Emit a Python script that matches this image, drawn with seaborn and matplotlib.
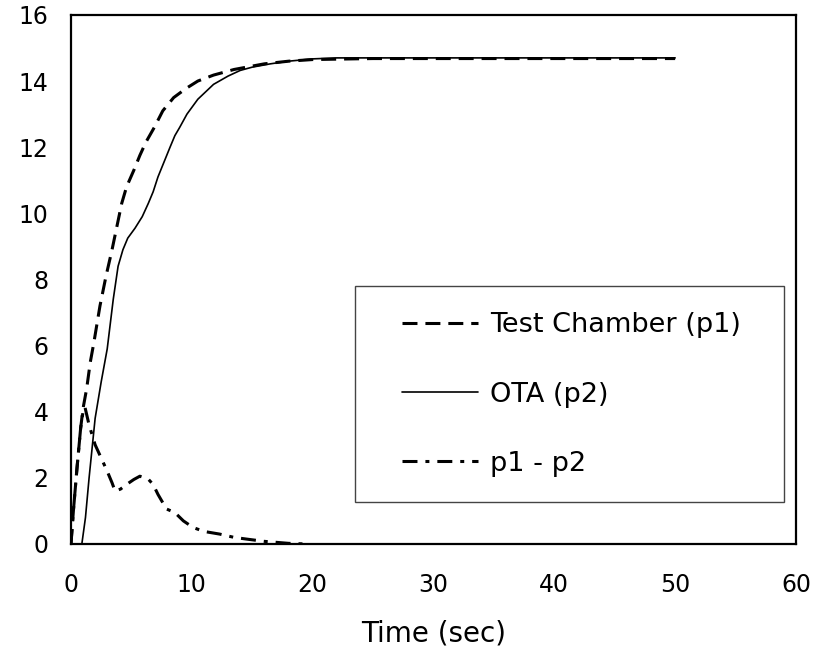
import matplotlib
matplotlib.use("Agg")
import matplotlib.pyplot as plt
import seaborn as sns
from matplotlib.patches import Rectangle

# Test Chamber (p1)
t_p1 = [0, 0.2, 0.5, 0.8, 1.0, 1.3, 1.6, 1.9, 2.4, 2.9, 3.4, 3.8, 4.2, 4.6, 5.2,
        5.7, 6.2, 6.9, 7.6, 8.5, 9.5, 10.5, 11.8, 13.5, 16.0, 18.0, 20.0, 25.0,
        30.0, 40.0, 50.0]
p1 = [0, 1.0, 2.3, 3.5, 4.1, 4.7, 5.5, 6.1, 7.2, 8.1, 8.9, 9.6, 10.3, 10.8, 11.3,
      11.75, 12.15, 12.6, 13.1, 13.5, 13.77, 14.0, 14.18, 14.35, 14.52, 14.6,
      14.65, 14.68, 14.68, 14.68, 14.68]

# OTA (p2)
t_p2 = [0, 0.9, 1.2, 1.5, 2.0, 2.5, 3.0, 3.5, 3.9, 4.3, 4.7, 5.3, 5.9, 6.4, 6.8,
        7.2, 7.7, 8.2, 8.6, 9.0, 9.6, 10.5, 11.8, 13.0, 14.0, 15.0, 16.5, 18.0,
        20.0, 22.0, 30.0, 40.0, 50.0]
p2 = [0, 0, 0.8, 2.0, 3.8, 4.9, 5.9, 7.4, 8.4, 8.9, 9.25, 9.55, 9.9, 10.3, 10.65,
      11.1, 11.55, 12.0, 12.35, 12.6, 13.0, 13.45, 13.9, 14.15, 14.32, 14.42,
      14.52, 14.6, 14.67, 14.7, 14.7, 14.7, 14.7]

# p1 - p2
t_diff = [0, 0.2, 0.5, 0.8, 1.0, 1.15, 1.5, 2.0, 2.5, 3.0, 3.4, 3.65, 4.1, 4.6,
          5.2, 5.7, 6.4, 6.8, 7.2, 7.9, 8.6, 9.3, 10.1, 11.0, 12.3, 13.5, 14.5,
          16.0, 18.0, 19.5]
diff = [0, 1.0, 2.3, 3.5, 4.0, 4.15, 3.6, 3.0, 2.6, 2.2, 1.85, 1.6, 1.66, 1.8,
        1.95, 2.05, 1.96, 1.8, 1.5, 1.06, 0.95, 0.7, 0.5, 0.38, 0.3, 0.2, 0.15,
        0.08, 0.02, 0.0]

x_ticks = [0, 10, 20, 30, 40, 50, 60]
y_ticks = [0, 2, 4, 6, 8, 10, 12, 14, 16]

sns.set_style("white")
plt.rcParams["font.family"] = ["DejaVu Sans"]
plt.rcParams["text.color"] = "black"
plt.rcParams["axes.labelcolor"] = "black"

fig, ax = plt.subplots(figsize=(8.3, 6.48), dpi=100)
fig.subplots_adjust(left=0.0855, right=0.959, top=0.977, bottom=0.1605)

sns.lineplot(x=t_p1, y=p1, ax=ax, color="black", lw=2.2, sort=False,
             linestyle=(0, (4.9, 2.6)), label="Test Chamber (p1)")
sns.lineplot(x=t_p2, y=p2, ax=ax, color="black", lw=1.2, sort=False,
             linestyle="-", label="OTA (p2)")
sns.lineplot(x=t_diff, y=diff, ax=ax, color="black", lw=2.2, sort=False,
             linestyle=(0, (4.9, 2.6, 1.3, 2.6)), label="p1 - p2")

ax.set_xlim(0, 60)
ax.set_ylim(0, 16)
ax.set_xticks(x_ticks)
ax.set_yticks(y_ticks)
ax.tick_params(axis="both", direction="in", length=6, width=1, colors="black",
               labelsize=17)
ax.tick_params(axis="x", pad=21)
ax.tick_params(axis="y", pad=16)
for sp in ax.spines.values():
    sp.set_color("black")
    sp.set_linewidth(1.6)

ax.set_xlabel("Time (sec)", fontsize=20, labelpad=16, color="black")
ax.set_ylabel("")

# legend box
ax.add_patch(Rectangle((0.392, 0.079), 0.591, 0.409, transform=ax.transAxes,
                       facecolor="white", edgecolor="#444444", lw=1, zorder=3))
ax.legend(loc="upper left", bbox_to_anchor=(0.4566, 0.438), frameon=False,
          borderpad=0, borderaxespad=0, fontsize=19.5, handlelength=2.8,
          handletextpad=0.44, labelspacing=1.6, labelcolor="black")

fig.savefig("out.png", dpi=100)
